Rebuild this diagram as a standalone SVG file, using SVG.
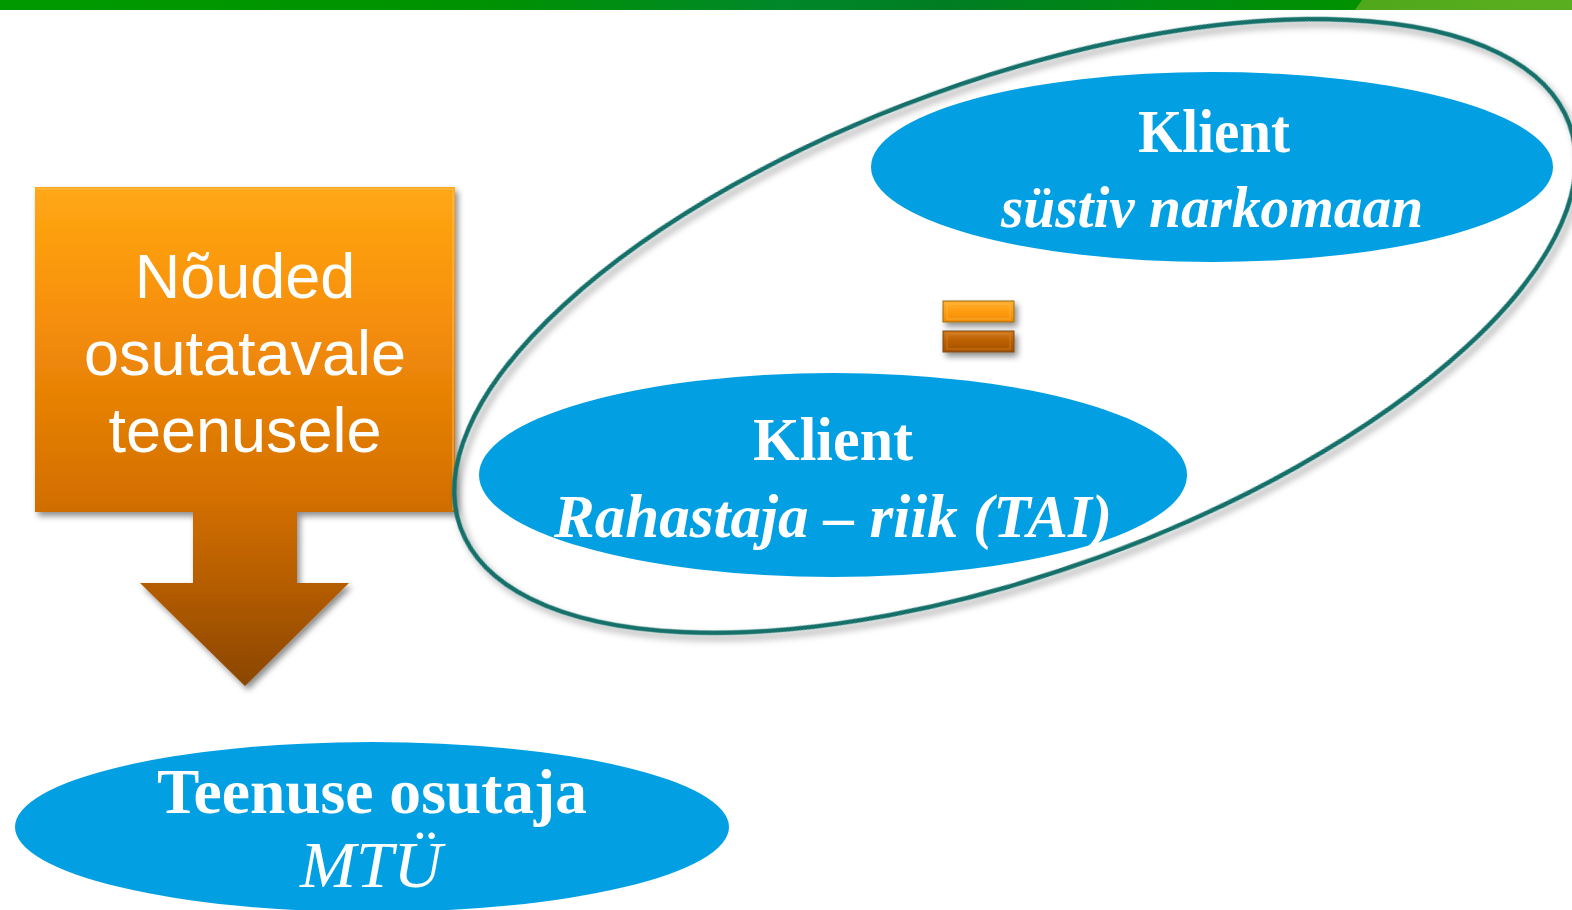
<svg xmlns="http://www.w3.org/2000/svg" width="1572" height="910" viewBox="0 0 1572 910">
  <defs>
    <style>
      .band { fill: url(#bandGrad); }
      .blue { fill: #02a0e2; }
      .serifB { font-family: "Liberation Serif", "Times New Roman", serif; font-weight: bold; fill: #ffffff; text-anchor: middle; }
      .serifBI { font-family: "Liberation Serif", "Times New Roman", serif; font-weight: bold; font-style: italic; fill: #ffffff; text-anchor: middle; }
      .serifI { font-family: "Liberation Serif", "Times New Roman", serif; font-style: italic; fill: #ffffff; text-anchor: middle; }
      .sans { font-family: "Liberation Sans", Arial, sans-serif; font-size: 63px; fill: #ffffff; text-anchor: middle; }
      .ring { fill: none; stroke: #15706a; stroke-width: 4.5; }
    </style>
    <linearGradient id="bandGrad" x1="0" y1="0" x2="1" y2="0">
      <stop offset="0" stop-color="#009a00"/>
      <stop offset="0.3" stop-color="#009200"/>
      <stop offset="0.5" stop-color="#00882a"/>
      <stop offset="0.6" stop-color="#007d24"/>
      <stop offset="0.75" stop-color="#008a10"/>
      <stop offset="0.86" stop-color="#009200"/>
      <stop offset="1" stop-color="#009200"/>
    </linearGradient>
    <linearGradient id="bandLight" x1="0" y1="0" x2="1" y2="0">
      <stop offset="0" stop-color="#4fa81a"/>
      <stop offset="1" stop-color="#5aaf20"/>
    </linearGradient>
    <linearGradient id="arrowGrad" x1="0" y1="187" x2="0" y2="686" gradientUnits="userSpaceOnUse">
      <stop offset="0" stop-color="#ffa814"/>
      <stop offset="0.25" stop-color="#f7900a"/>
      <stop offset="0.62" stop-color="#d47000"/>
      <stop offset="0.8" stop-color="#b45c00"/>
      <stop offset="1" stop-color="#8a4600"/>
    </linearGradient>
    <linearGradient id="barTop" x1="0" y1="0" x2="0" y2="1">
      <stop offset="0" stop-color="#ffb030"/>
      <stop offset="0.5" stop-color="#ff9c10"/>
      <stop offset="1" stop-color="#f08a00"/>
    </linearGradient>
    <linearGradient id="barBottom" x1="0" y1="0" x2="0" y2="1">
      <stop offset="0" stop-color="#d27a20"/>
      <stop offset="0.5" stop-color="#b85e00"/>
      <stop offset="1" stop-color="#a45200"/>
    </linearGradient>
    <filter id="shadow" x="-10%" y="-10%" width="130%" height="130%">
      <feGaussianBlur in="SourceAlpha" stdDeviation="3"/>
      <feOffset dx="3" dy="4" result="b"/>
      <feFlood flood-color="#000000" flood-opacity="0.45"/>
      <feComposite in2="b" operator="in"/>
      <feMerge><feMergeNode/><feMergeNode in="SourceGraphic"/></feMerge>
    </filter>
    <filter id="ringShadow" x="-10%" y="-10%" width="120%" height="130%">
      <feGaussianBlur in="SourceAlpha" stdDeviation="3.5"/>
      <feOffset dx="2" dy="6" result="b"/>
      <feFlood flood-color="#000000" flood-opacity="0.35"/>
      <feComposite in2="b" operator="in"/>
      <feMerge><feMergeNode/><feMergeNode in="SourceGraphic"/></feMerge>
    </filter>
  </defs>

  <rect width="1572" height="910" fill="#ffffff"/>

  <!-- header band -->
  <g id="header">
    <rect class="band" x="0" y="0" width="1572" height="10"/>
    <polygon points="1362,0 1572,0 1572,10 1355,10" fill="url(#bandLight)"/>
  </g>

  <!-- requirements box with downward arrow -->
  <g id="requirements">
    <path d="M35,187 H455 V512 H297 V583 H349 L245,686 L140,583 H193 V512 H35 Z" fill="url(#arrowGrad)" filter="url(#shadow)"/>
    <path d="M37,189 H453 V510" fill="none" stroke="#ffc060" stroke-opacity="0.45" stroke-width="2"/>
    <text class="sans" x="245" y="298">Nõuded</text>
    <text class="sans" x="245" y="375">osutatavale</text>
    <text class="sans" x="245" y="452">teenusele</text>
  </g>

  <!-- grouping ring around both clients -->
  <g id="client-group">
    <ellipse class="ring" cx="1015" cy="326" rx="590" ry="246" transform="rotate(-20 1015 326)" filter="url(#ringShadow)"/>
  </g>

  <!-- equals sign between the clients -->
  <g id="equals" filter="url(#shadow)">
    <rect x="943" y="301" width="71" height="21" fill="url(#barTop)" stroke="#9a6a10" stroke-width="1"/>
    <rect x="947" y="304" width="63" height="15" fill="none" stroke="#ffc050" stroke-opacity="0.6" stroke-width="1"/>
    <rect x="943" y="331" width="71" height="21" fill="url(#barBottom)" stroke="#7a4a10" stroke-width="1"/>
    <rect x="947" y="334" width="63" height="15" fill="none" stroke="#e08a30" stroke-opacity="0.6" stroke-width="1"/>
  </g>

  <!-- client: injecting drug user -->
  <g id="client-user">
    <ellipse class="blue" cx="1212" cy="167" rx="341" ry="95"/>
    <text class="serifB" x="1214" y="152" font-size="62" textLength="152" lengthAdjust="spacingAndGlyphs">Klient</text>
    <text class="serifBI" x="1212" y="227" font-size="60" textLength="422" lengthAdjust="spacingAndGlyphs">süstiv narkomaan</text>
  </g>

  <!-- client: funder -->
  <g id="client-funder">
    <ellipse class="blue" cx="833" cy="475" rx="354" ry="102"/>
    <text class="serifB" x="833" y="460" font-size="62" textLength="160" lengthAdjust="spacingAndGlyphs">Klient</text>
    <text class="serifBI" x="833" y="537" font-size="62" textLength="558" lengthAdjust="spacingAndGlyphs">Rahastaja – riik (TAI)</text>
  </g>

  <!-- service provider -->
  <g id="provider">
    <ellipse class="blue" cx="372" cy="827" rx="357" ry="85"/>
    <text class="serifB" x="372" y="813" font-size="64" textLength="430" lengthAdjust="spacingAndGlyphs">Teenuse osutaja</text>
    <text class="serifI" x="371" y="887" font-size="66" textLength="142" lengthAdjust="spacingAndGlyphs">MTÜ</text>
  </g>

  <g id="connectors"></g>
</svg>
